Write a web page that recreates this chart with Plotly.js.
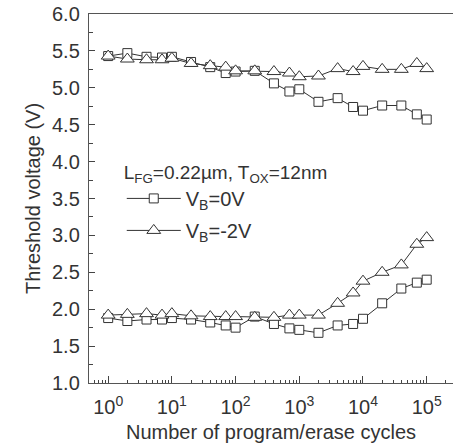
<!DOCTYPE html>
<html><head><meta charset="utf-8">
<script src="https://cdn.plot.ly/plotly-3.0.1.min.js"></script>
<style>body{margin:0;background:#fff}#chart{width:453px;height:447px}</style>
</head><body><div id="chart"></div>
<script>
const cycles = [1,2,4,7,10,20,40,70,100,200,400,700,1000,2000,4000,7000,1e4,2e4,4e4,7e4,1e5];
const vtProg0V  = [5.43,5.47,5.42,5.41,5.42,5.35,5.28,5.20,5.22,5.23,5.06,4.95,4.98,4.81,4.86,4.74,4.69,4.76,4.76,4.64,4.57];
const vtProgM2V = [5.43,5.39,5.38,5.38,5.40,5.33,5.30,5.28,5.23,5.23,5.22,5.20,5.15,5.16,5.26,5.22,5.29,5.25,5.25,5.33,5.26];
const vtErase0V  = [1.88,1.84,1.86,1.86,1.88,1.86,1.82,1.78,1.75,1.90,1.80,1.74,1.72,1.68,1.78,1.80,1.87,2.08,2.28,2.36,2.40];
const vtEraseM2V = [1.92,1.93,1.94,1.92,1.94,1.91,1.90,1.90,1.90,1.89,1.89,1.92,1.92,1.92,2.08,2.22,2.38,2.50,2.60,2.88,2.97];
const seriesNames = ['V<sub>B</sub>=0V','V<sub>B</sub>=-2V'];
const legendHeader = 'L<sub>FG</sub>=0.22\u00b5m, T<sub>OX</sub>=12nm';
const xTickVals = [1,10,100,1000,10000,100000];
const xTickText = ['10<sup>0</sup>','10<sup>1</sup>','10<sup>2</sup>','10<sup>3</sup>','10<sup>4</sup>','10<sup>5</sup>'];
const xTitle = 'Number of program/erase cycles';
const yTitle = 'Threshold voltage (V)';

const ink = '#333';
const FONT = 'Liberation Sans, Arial, sans-serif';
function tr(y, sym, size, name, show){
  return {x: cycles, y: y, type:'scatter', mode:'lines+markers', name: name,
    legendgroup: name, showlegend: show,
    line:{color:ink, width:1},
    marker:{symbol:sym, size:size, color:'#fff', line:{color:ink, width:1}}};
}
const data = [
  tr(vtProg0V,'square',9,seriesNames[0],true),
  tr(vtProgM2V,'triangle-up',12,seriesNames[1],true),
  tr(vtErase0V,'square',9,seriesNames[0],false),
  tr(vtEraseM2V,'triangle-up',12,seriesNames[1],false)
];
const layout = {
  width:453, height:447,
  margin:{l:89, r:0, t:14, b:64},
  paper_bgcolor:'#fff', plot_bgcolor:'#fff',
  font:{family:FONT, color:ink, size:20},
  showlegend:true,
  legend:{x:0.09, y:0.62, xanchor:'left', yanchor:'top', bgcolor:'rgba(0,0,0,0)',
    font:{size:20}, itemwidth:54, tracegroupgap:3,
    title:{text:legendHeader, font:{size:19}}},
  xaxis:{type:'log', range:[Math.log10(0.5), 5.413],
    tickmode:'array', tickvals:xTickVals, ticktext:xTickText,
    ticks:'inside', ticklen:7, tickwidth:1, tickcolor:'#444',
    minor:{dtick:'D1', ticks:'inside', ticklen:3.5, tickcolor:'#444', tickwidth:1},
    showline:true, linecolor:'#555', linewidth:1.2, mirror:true,
    showgrid:false, zeroline:false,
    tickfont:{size:20}, ticklabelstandoff:6,
    title:{text:xTitle, font:{size:20}, standoff:7}},
  yaxis:{range:[1,6], dtick:0.5, tick0:1, tickformat:'.1f',
    ticks:'inside', ticklen:6, tickwidth:1, tickcolor:'#444',
    minor:{dtick:0.25, ticks:'inside', ticklen:4, tickcolor:'#444', tickwidth:1},
    showline:true, linecolor:'#555', linewidth:1.2,
    showgrid:false, zeroline:false,
    tickfont:{size:20}, ticklabelstandoff:4,
    title:{text:yTitle, font:{size:20}, standoff:6}}
};
Plotly.newPlot('chart', data, layout, {displayModeBar:false, staticPlot:true}).then(function(gd){
  gd.querySelectorAll('.legend .traces').forEach(function(t){
    t.querySelectorAll('.legendlines path').forEach(function(p){ p.setAttribute('d','M5,0h54'); });
    t.querySelectorAll('.legendsymbols path.scatterpts').forEach(function(p){ p.setAttribute('transform','translate(32,0)'); });
  });
});
</script></body></html>
